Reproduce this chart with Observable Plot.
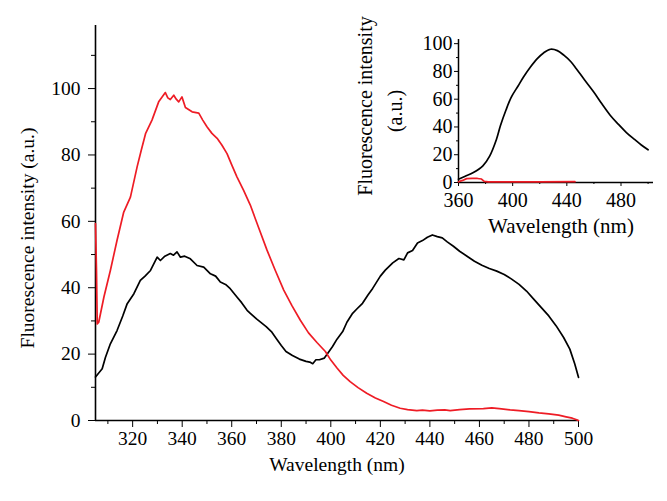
<!DOCTYPE html>
<html>
<head>
<meta charset="utf-8">
<script src="https://cdn.jsdelivr.net/npm/d3@7"></script>
<script src="https://cdn.jsdelivr.net/npm/@observablehq/plot@0.6"></script>
<style>
  html, body { margin: 0; padding: 0; background: #fff; }
  #wrap { position: relative; width: 667px; height: 501px; overflow: hidden; }
  #inset { position: absolute; left: 350px; top: 0px; }
  svg { background: transparent !important; }
</style>
</head>
<body>
<div id="wrap">
  <div id="main"></div>
  <div id="inset"></div>
</div>
<script>
// ---- Main chart data (wavelength nm, intensity a.u.) ----
const blackWl = [305, 307.7, 309, 311, 313.7, 316, 317.8, 320.5, 323.1, 325, 327.2, 329.9, 331.2, 333, 335.2, 336.5, 337.9, 339.3, 341, 343.3, 346, 348.7, 351.4, 353.5, 355.4, 357.5, 359.4, 362.1, 364, 366.2, 367.5, 370, 373.9, 376, 377.9, 380, 381.9, 384.5, 387.3, 390, 391.5, 392.7, 394, 395.4, 397.4, 399, 400.7, 402.5, 404.8, 406.5, 408.8, 410.5, 412.8, 415, 416.9, 420, 422, 425, 427.5, 429.5, 431, 433, 435, 437, 439, 441, 443, 445, 447, 449.5, 452, 455, 458, 461, 464, 467, 470, 473, 476, 479, 482, 485, 488, 491, 494, 496.5, 498.5, 500];
const blackVals = [13.1, 15.6, 19, 23.1, 27.1, 31.5, 35.2, 38.2, 42.2, 43.5, 45.2, 49.2, 48.2, 49.5, 50.3, 49.8, 50.8, 49.2, 49.5, 48.7, 46.7, 46.2, 44.2, 43.5, 41.7, 41.0, 39.7, 37.2, 35.5, 33.2, 32.3, 30.6, 28.3, 26.8, 24.8, 22.6, 20.8, 19.6, 18.5, 17.8, 17.6, 17.1, 18.3, 18.3, 18.8, 20.5, 22.3, 24.5, 26.8, 29.6, 32.3, 33.6, 35.3, 37.8, 39.8, 43.5, 45.3, 47.5, 48.8, 48.4, 50.5, 51.2, 53.5, 54.2, 55.2, 55.9, 55.4, 55.0, 53.8, 52.5, 51.0, 49.5, 48.0, 46.8, 45.8, 45.0, 44.0, 42.6, 41.0, 39.0, 36.5, 34.0, 31.5, 28.5, 25.0, 21.5, 17.0, 13.0];

const redWl = [305, 305.4, 305.7, 306.3, 308.4, 311, 313.7, 316.4, 319.1, 321.8, 323.5, 325.2, 327.8, 330.5, 333.2, 334.2, 335.2, 336.6, 337.6, 338.6, 339.9, 341.3, 344, 346.7, 348.3, 350, 352, 354.1, 356, 358.1, 360, 362.1, 364.8, 367.5, 370.8, 374.2, 377.6, 381, 384.3, 387.7, 391, 394.4, 397.8, 400, 402.5, 405, 407.8, 411, 414.5, 418, 421.3, 424.5, 428, 431, 434.7, 437, 440, 443, 446, 448.2, 452, 456, 461.6, 465, 468, 472.4, 476, 480, 484, 488, 492, 495, 497.5, 499, 500];
const redVals = [59.3, 45, 29.1, 29.6, 37.2, 45.2, 54.3, 62.8, 67.3, 76.4, 81.5, 86.4, 90.5, 96.0, 98.8, 97.2, 96.7, 98.0, 96.8, 96.0, 97.5, 94.3, 93.0, 92.6, 90.5, 88.5, 86.5, 85.0, 83.0, 80.4, 77.0, 73.4, 69.3, 64.9, 58.2, 51.4, 45.2, 39.3, 34.6, 30.2, 26.4, 23.5, 20.8, 18.2, 15.8, 13.6, 11.7, 9.9, 8.2, 6.8, 5.7, 4.6, 3.7, 3.3, 3.0, 3.1, 2.9, 3.1, 3.2, 3.0, 3.3, 3.5, 3.6, 3.8, 3.6, 3.2, 3.0, 2.7, 2.3, 2.0, 1.6, 1.1, 0.7, 0.3, 0.0];

// ---- Inset data ----
const insetBlackWl = [360, 365, 371, 378, 383, 388, 391, 395, 399, 404, 408, 413, 418, 423, 428, 433, 438, 443, 447, 453, 460, 466, 472, 478, 484, 490, 495, 500];
const insetBlackVals = [2.4, 4.5, 7.2, 12, 19, 31, 41, 52, 61.5, 69.5, 76, 83, 89, 93.5, 96, 95, 91.5, 87, 82, 74, 65, 56.5, 48.5, 42, 36, 31, 27, 23.6];
const insetRedWl = [360, 363, 366, 370, 374, 377, 379, 382, 400, 420, 446];
const insetRedVals = [0.5, 1.5, 2.8, 3.0, 2.9, 2.5, 0.8, 0.5, 0.5, 0.5, 0.6];

// ---- Tick values ----
const xMajor = [320, 340, 360, 380, 400, 420, 440, 460, 480, 500];
const xMinor = [310, 330, 350, 370, 390, 410, 430, 450, 470, 490];
const yMajor = [0, 20, 40, 60, 80, 100];
const yMinor = [10, 30, 50, 70, 90, 110];
const insetXMajor = [360, 400, 440, 480];
const insetXMinor = [380, 420, 460, 500];
const insetYMajor = [0, 20, 40, 60, 80, 100];
const insetYMinor = [10, 30, 50, 70, 90];

const blackData = blackWl.map((w, i) => ({w, v: blackVals[i]}));
const redData = redWl.map((w, i) => ({w, v: redVals[i]}));
const iBlack = insetBlackWl.map((w, i) => ({w, v: insetBlackVals[i]}));
const iRed = insetRedWl.map((w, i) => ({w, v: insetRedVals[i]}));

const FONT = "'Liberation Serif', 'DejaVu Serif', serif";
const RED = "#ee1c25";
const FS = 19.5;
const FSI = 20;

const main = Plot.plot({
  width: 667,
  height: 501,
  marginLeft: 95,
  marginRight: 89,
  marginTop: 25,
  marginBottom: 81,
  style: {fontFamily: FONT, fontSize: FS + "px", color: "#000", background: "transparent"},
  x: {domain: [305, 500], label: null},
  y: {domain: [0, 119], label: null},
  marks: [
    Plot.axisX({ticks: xMajor, tickSize: 7, tickPadding: 4, tickFormat: d => String(d), label: null, fontSize: FS}),
    Plot.axisX({ticks: xMinor, tickSize: 4, tickFormat: () => "", label: null}),
    Plot.axisY({ticks: yMajor, tickSize: 7, tickPadding: 8, tickFormat: d => String(d), label: null, fontSize: FS}),
    Plot.axisY({ticks: yMinor, tickSize: 4, tickFormat: () => "", label: null}),
    Plot.ruleY([0], {x1: 305, x2: 500, stroke: "#000", strokeWidth: 1.6}),
    Plot.ruleX([305], {y1: 0, y2: 119, stroke: "#000", strokeWidth: 1.6}),
    Plot.line(blackData, {x: "w", y: "v", stroke: "#000", strokeWidth: 1.7}),
    Plot.line(redData, {x: "w", y: "v", stroke: RED, strokeWidth: 1.7}),
    Plot.text(["Wavelength (nm)"], {frameAnchor: "bottom", dy: 50, fontSize: FS, fill: "#000"}),
    Plot.text(["Fluorescence intensity (a.u.)"], {frameAnchor: "left", textAnchor: "middle", dx: -68, dy: 15, rotate: -90, fontSize: FS, fill: "#000"})
  ]
});
document.getElementById("main").appendChild(main);

const inset = Plot.plot({
  width: 317,
  height: 250,
  marginLeft: 108,
  marginRight: 14,
  marginTop: 39,
  marginBottom: 68,
  style: {fontFamily: FONT, fontSize: FSI + "px", color: "#000", background: "transparent"},
  x: {domain: [360, 504], label: null},
  y: {domain: [0, 103], label: null},
  marks: [
    Plot.axisX({ticks: insetXMajor, tickSize: 4, tickPadding: 6, tickFormat: d => String(d), label: null, fontSize: FSI}),
    Plot.axisX({ticks: insetXMinor, tickSize: 2, tickFormat: () => "", label: null}),
    Plot.axisY({ticks: insetYMajor, tickSize: 4, tickPadding: 2, tickFormat: d => String(d), label: null, fontSize: FSI}),
    Plot.axisY({ticks: insetYMinor, tickSize: 2, tickFormat: () => "", label: null}),
    Plot.ruleY([0], {x1: 360, x2: 504, stroke: "#000", strokeWidth: 1.5}),
    Plot.ruleX([360], {y1: 0, y2: 103, stroke: "#000", strokeWidth: 1.5}),
    Plot.line(iBlack, {x: "w", y: "v", stroke: "#000", strokeWidth: 1.7, curve: "catmull-rom"}),
    Plot.line(iRed, {x: "w", y: "v", stroke: RED, strokeWidth: 1.7}),
    Plot.text(["Wavelength (nm)"], {frameAnchor: "bottom", dx: 5, dy: 50, fontSize: FSI + 1, fill: "#000"}),
    Plot.text(["Fluorescence intensity"], {frameAnchor: "left", textAnchor: "middle", dx: -93, dy: -5, rotate: -90, fontSize: FSI, fill: "#000"}),
    Plot.text(["(a.u.)"], {frameAnchor: "left", textAnchor: "middle", dx: -63, rotate: -90, fontSize: FSI, fill: "#000"})
  ]
});
document.getElementById("inset").appendChild(inset);
</script>
</body>
</html>
